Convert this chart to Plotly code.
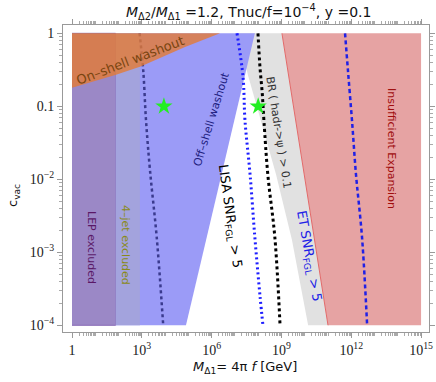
import plotly.graph_objects as go

# ---------------- data (x = M_Delta1 [GeV], y = c_vac) ----------------
lep_x = [1, 75]
jet4_x = [75, 830]
offshell_x = [1, 7.9e4, 7.2e7, 1]
offshell_y = [1e-4, 1e-4, 1, 1]
onshell_x = [1, 78, 890, 7.2e4, 2.3e6]
onshell_y = [0.18, 0.27, 0.35, 0.65, 1]
br_left_x = [1.35e7, 3.6e7, 8.9e7, 2.2e8, 5.9e8, 2.8e9, 1.4e10]
br_left_y = [1, 0.27, 0.098, 0.035, 0.0115, 1.5e-3, 1e-4]
insuff_x = [1.05e9, 1e11]
insuff_y = [1, 1e-4]
x_min, x_max = 1, 1e15
y_min, y_max = 1e-4, 1
slate_x = [800, 1150, 1510, 2240, 4370, 8300]
slate_y = [1, 0.31, 0.065, 0.0134, 1.6e-3, 1e-4]
lisa_x = [1.23e7, 2.24e7, 2.7e7, 4.5e7, 7.2e7, 1.2e8, 1.6e8]
lisa_y = [1, 0.25, 0.065, 0.0115, 1.6e-3, 2.5e-4, 1e-4]
black_x = [9.8e7, 1.2e8, 1.48e8, 1.78e8, 2.6e8, 5.2e8, 8.7e8]
black_y = [1, 0.335, 0.157, 0.061, 0.0115, 1.6e-3, 1e-4]
et_x = [5.4e11, 7.2e11, 1.07e12, 1.6e12, 2.9e12, 4.8e12]
et_y = [1, 0.31, 0.065, 0.0115, 1.6e-3, 1e-4]
star_x = [8.9e3, 1e8]
star_y = [0.1, 0.1]

x_ticks = [1, 1e3, 1e6, 1e9, 1e12, 1e15]
x_ticktext = ["1", "10<sup>3</sup>", "10<sup>6</sup>", "10<sup>9</sup>", "10<sup>12</sup>", "10<sup>15</sup>"]
y_ticks = [1e-4, 1e-3, 1e-2, 0.1, 1]
y_ticktext = ["10<sup>−4</sup>", "10<sup>−3</sup>", "10<sup>−2</sup>", "0.1", "1"]

# ---------------- figure ----------------
W, H = 436, 382
L, R, T, B = 63, 429, 25, 332


def px(xp, yp):
    return (xp - L) / (R - L), (B - yp) / (B - T)


fig = go.Figure()


def poly(xs, ys, color, lw=0, lc=None):
    fig.add_trace(go.Scatter(x=xs, y=ys, mode="lines", fill="toself", fillcolor=color,
                             line=dict(width=lw, color=lc or color), hoverinfo="skip"))


# grey BR band
poly(br_left_x + [insuff_x[1], insuff_x[0]], br_left_y + [insuff_y[1], insuff_y[0]], "#e1e1e1")
# red insufficient expansion
poly([insuff_x[0], x_max, x_max, insuff_x[1]], [insuff_y[0], y_max, y_min, insuff_y[1]], "#e6a3a3")
fig.add_trace(go.Scatter(x=insuff_x, y=insuff_y, mode="lines", line=dict(color="#e26a6a", width=1), hoverinfo="skip"))
# off-shell washout (blue)
poly(offshell_x, offshell_y, "#9b9bf7")
# LEP and 4-jet
poly([lep_x[0], lep_x[1], lep_x[1], lep_x[0]], [y_min, y_min, y_max, y_max], "#9b88c6", 1, "#8a6cb4")
poly([jet4_x[0], jet4_x[1], jet4_x[1], jet4_x[0]], [y_min, y_min, y_max, y_max], "#a3a3dd")
# slate dashed line (below orange)
fig.add_trace(go.Scatter(x=slate_x, y=slate_y, mode="lines", line=dict(color="#3a3a8e", width=2.5, dash="3px,3px", shape="spline"), hoverinfo="skip"))
# on-shell washout (orange, translucent)
poly(onshell_x + [x_min], onshell_y + [y_max], "rgba(228,122,52,0.8)")
# lines
fig.add_trace(go.Scatter(x=lisa_x, y=lisa_y, mode="lines", line=dict(color="#1d1dff", width=3, dash="2px,3px", shape="spline"), hoverinfo="skip"))
fig.add_trace(go.Scatter(x=black_x, y=black_y, mode="lines", line=dict(color="black", width=3, dash="3px,3px", shape="spline"), hoverinfo="skip"))
fig.add_trace(go.Scatter(x=et_x, y=et_y, mode="lines", line=dict(color="#2020e6", width=2.5, dash="4px,3px", shape="spline"), hoverinfo="skip"))
# stars
fig.add_trace(go.Scatter(x=star_x, y=star_y, mode="markers", marker=dict(symbol="star", size=13, color="#22ee22", line=dict(width=0)), hoverinfo="skip"))

minor_x = [m * 10 ** k for k in range(0, 16) for m in range(1, 10) if m * 10 ** k <= 1e15]
minor_y = [m * 10.0 ** k for k in range(-4, 1) for m in range(1, 10) if m * 10.0 ** k <= 1]

axis_common = dict(type="log", automargin=False, showgrid=False, zeroline=False, showline=True,
                   linecolor="#999999", linewidth=1, mirror="allticks", ticks="outside", ticklen=5,
                   tickcolor="#999999",
                   tickfont=dict(family="Liberation Serif", size=14, color="#222222"))

fig.update_xaxes(range=[-0.387, 15.34], tickmode="array", tickvals=x_ticks, ticktext=x_ticktext,
                 minor=dict(tickmode="array", tickvals=minor_x, ticks="outside", ticklen=3, tickcolor="#aaaaaa"),
                 **axis_common)
fig.update_yaxes(range=[-4.092, 0.114], tickmode="array", tickvals=y_ticks, ticktext=y_ticktext,
                 minor=dict(tickmode="array", tickvals=minor_y, ticks="outside", ticklen=3, tickcolor="#aaaaaa"),
                 **axis_common)

ann = []


def text(s, xp, yp, size, color="#111111", angle=0, family="DejaVu Sans"):
    xx, yy = px(xp, yp)
    ann.append(dict(text=s, x=xx, y=yy, xref="paper", yref="paper", showarrow=False,
                    textangle=angle, font=dict(family=family, size=size, color=color),
                    xanchor="center", yanchor="middle"))


text("<i>M</i><sub>Δ2</sub>/<i>M</i><sub>Δ1</sub> =1.2, Tnuc/f=10<sup>−4</sup>, y =0.1", 248, 12, 14, "#111111")
text("<i>M</i><sub>Δ1</sub>= 4π <i>f</i> [GeV]", 245, 367, 13, "#111111")
text("c<sub>vac</sub>", 13, 195, 13, "#111111", -90)
text("On–shell washout", 130, 60, 13, "#7a4510", -21)
text("Off–shell washout", 211, 119, 11, "#1e1e80", -73)
text("LISA SNR<sub>FGL</sub> > 5", 230, 216, 13, "#000000", 82)
text("BR ( hadr->ψ ) > 0.1", 279, 132, 11, "#333333", 81)
text("Insufficient Expansion", 392, 148, 11, "#a00d0d", 90)
text("ET SNR<sub>FGL</sub> > 5", 309, 256, 13, "#2020e6", 80)
text("LEP excluded", 92, 247, 11, "#5a1866", 90)
text("4–jet excluded", 126, 245, 11, "#8a8a1a", 90)

fig.update_layout(width=W, height=H, margin=dict(l=L, r=W - R, t=T, b=H - B),
                  paper_bgcolor="white", plot_bgcolor="white", showlegend=False,
                  annotations=ann)

fig.write_html("out.html", config={"displayModeBar": False},
               post_script="document.body.style.margin='0';document.body.style.overflow='hidden';")
